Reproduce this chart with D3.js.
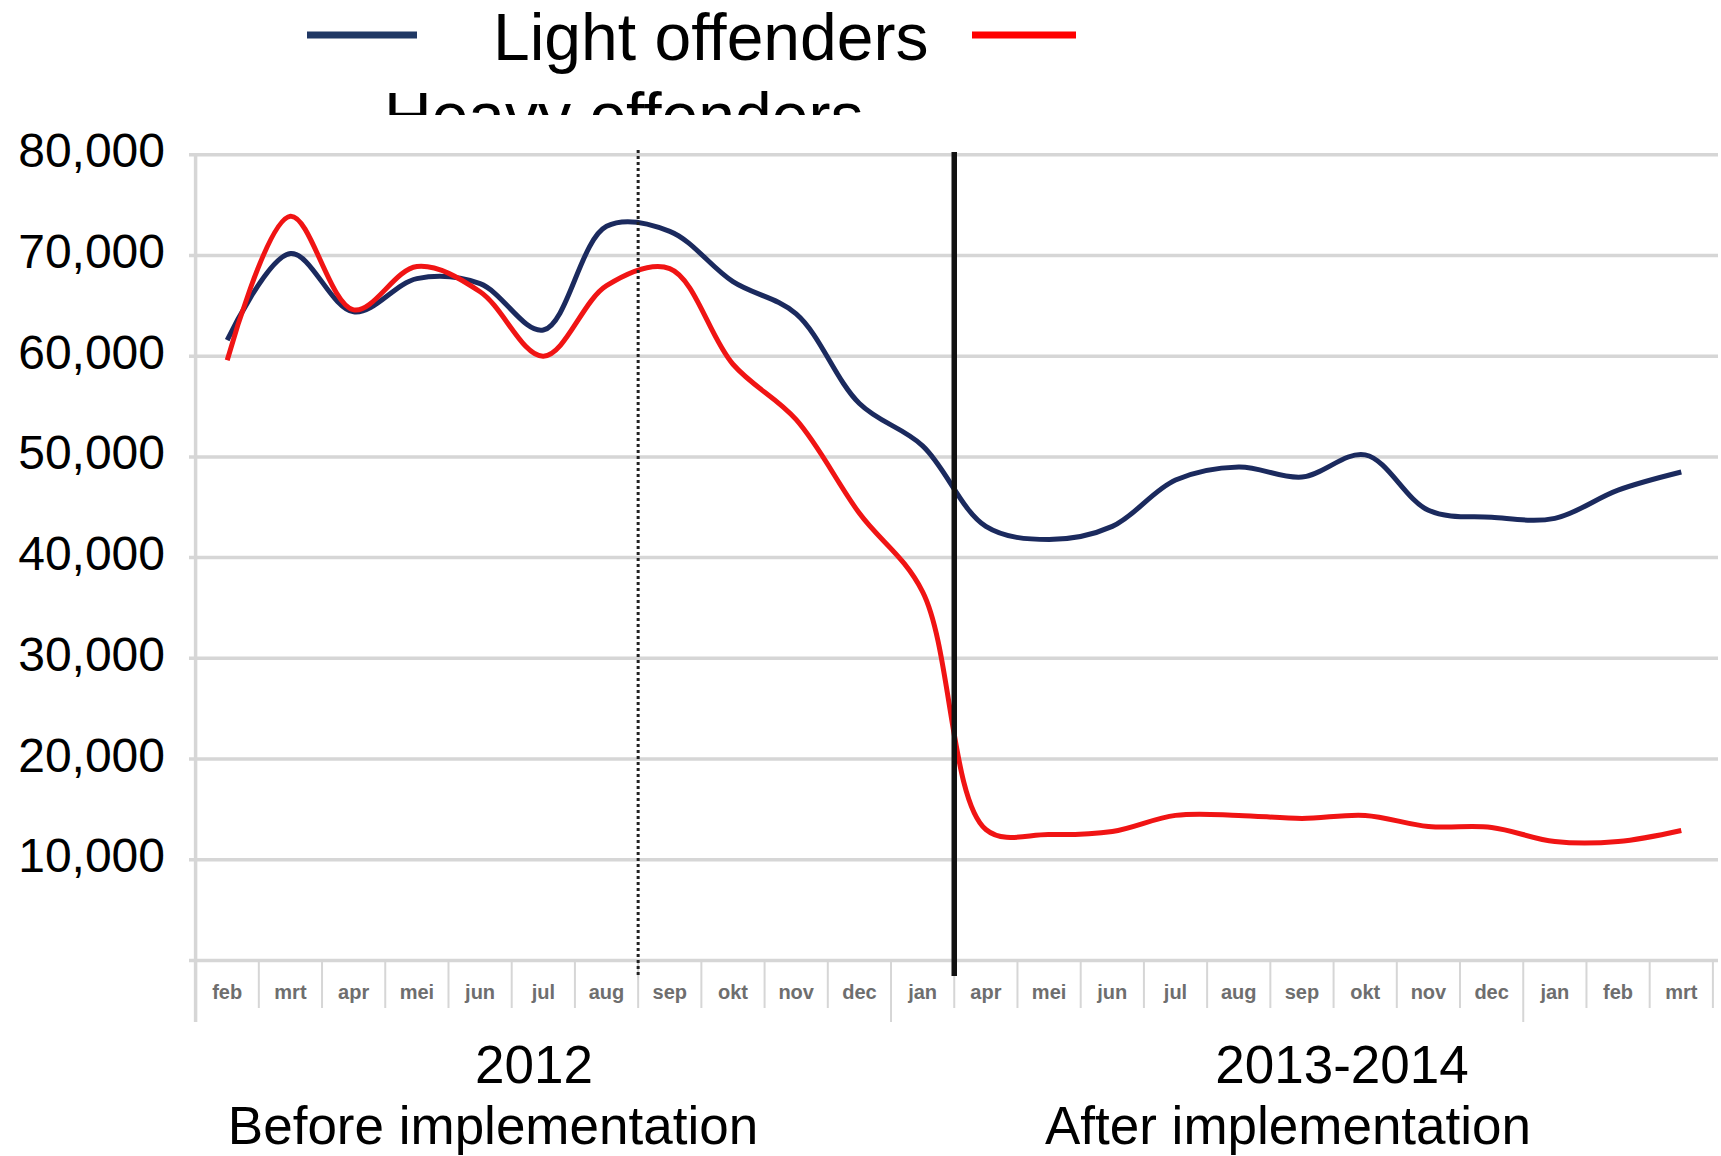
<!DOCTYPE html>
<html>
<head>
<meta charset="utf-8">
<script src="https://cdn.jsdelivr.net/npm/d3@7"></script>
<style>
  body { margin: 0; background: #fff; }
  text { font-family: "Liberation Sans", Arial, sans-serif; }
</style>
</head>
<body>
<script>
// months on the category axis (two periods)
const months = ["feb","mrt","apr","mei","jun","jul","aug","sep","okt","nov","dec","jan",
                "apr","mei","jun","jul","aug","sep","okt","nov","dec","jan","feb","mrt"];
const lightOffenders = [61600,70200,64400,67700,67200,62600,72900,72400,67400,64200,55300,51100,
                        43100,41800,43100,47700,49000,48000,50200,44700,44000,43900,46700,48500];
const heavyOffenders = [59600,73900,64600,68900,66400,60000,67000,68700,59200,53700,44400,36600,
                        13000,12500,12800,14400,14400,14100,14400,13300,13200,11800,11800,12900];
const yTicks = [10000,20000,30000,40000,50000,60000,70000,80000];
const periods = ["2012", "2013-2014"];
const periodNotes = ["Before implementation", "After implementation"];

const svg = d3.select("body").append("svg")
  .attr("width", 1721)
  .attr("height", 1156);

const x = d3.scaleBand()
  .domain(d3.range(months.length))
  .range([195.6, 1712.9]);

const y = d3.scaleLinear()
  .domain([0, 80000])
  .range([960.4, 154.8]);

const bw = x.bandwidth();

// gridlines
svg.append("g").selectAll("line")
  .data([0].concat(yTicks))
  .enter().append("line")
  .attr("x1", 189).attr("x2", 1718)
  .attr("y1", d => y(d)).attr("y2", d => y(d))
  .attr("stroke", "#d6d6d6")
  .attr("stroke-width", 3.5);

// category separators
const bounds = d3.range(months.length + 1).map(i => x.range()[0] + i * bw);
svg.append("g").selectAll("line")
  .data(bounds)
  .enter().append("line")
  .attr("x1", d => d).attr("x2", d => d)
  .attr("y1", (d, i) => i === 0 ? 154.8 : y(0))
  .attr("y2", (d, i) => (i === 0 || i === 11 || i === 21) ? 1022 : 1008)
  .attr("stroke", "#d6d6d6")
  .attr("stroke-width", (d, i) => i === 0 ? 3.5 : 2);

// category labels
svg.append("g").selectAll("text")
  .data(months)
  .enter().append("text")
  .attr("x", (d, i) => x(i) + bw / 2)
  .attr("y", 999)
  .attr("text-anchor", "middle")
  .attr("font-size", "20px")
  .attr("font-weight", "bold")
  .attr("fill", "#6e6e6e")
  .text(d => d);

// y axis labels
const yAxis = svg.append("g")
  .attr("transform", "translate(195,0)")
  .call(d3.axisLeft(y).tickValues(yTicks).tickFormat(d3.format(",")).tickSize(0).tickPadding(30));
yAxis.select(".domain").remove();
yAxis.selectAll("text")
  .attr("font-family", "Liberation Sans, Arial, sans-serif")
  .attr("font-size", "48px")
  .attr("fill", "#000")
  .attr("dy", "0.25em");

// series
const line = d3.line()
  .x((d, i) => x(i) + bw / 2)
  .y(d => y(d))
  .curve(d3.curveCatmullRom.alpha(0.5));

svg.append("path")
  .datum(lightOffenders)
  .attr("fill", "none")
  .attr("stroke", "#1b2a5e")
  .attr("stroke-width", 5)
  .attr("d", line);

svg.append("path")
  .datum(heavyOffenders)
  .attr("fill", "none")
  .attr("stroke", "#f01414")
  .attr("stroke-width", 5)
  .attr("d", line);

// dotted marker (aug|sep) and implementation line (jan|apr)
svg.append("line")
  .attr("x1", x(7)).attr("x2", x(7))
  .attr("y1", 150).attr("y2", 976)
  .attr("stroke", "#222")
  .attr("stroke-width", 3)
  .attr("stroke-dasharray", "3,3");

svg.append("line")
  .attr("x1", x(12)).attr("x2", x(12))
  .attr("y1", 152).attr("y2", 976)
  .attr("stroke", "#111")
  .attr("stroke-width", 5.5);

// period captions
svg.selectAll(".period")
  .data(periods)
  .enter().append("text")
  .attr("class", "period")
  .attr("x", (d, i) => i === 0 ? 534 : 1342)
  .attr("y", 1083)
  .attr("text-anchor", "middle")
  .attr("font-size", "53px")
  .text(d => d);

svg.selectAll(".note")
  .data(periodNotes)
  .enter().append("text")
  .attr("class", "note")
  .attr("x", (d, i) => i === 0 ? 493 : 1288)
  .attr("y", 1144)
  .attr("text-anchor", "middle")
  .attr("font-size", "53px")
  .text(d => d);

// legend
svg.append("defs").append("clipPath").attr("id", "legclip")
  .append("rect").attr("x", 0).attr("y", 0).attr("width", 1721).attr("height", 115);

const leg = svg.append("g").attr("clip-path", "url(#legclip)");
leg.append("line")
  .attr("x1", 307).attr("x2", 417).attr("y1", 35).attr("y2", 35)
  .attr("stroke", "#203864").attr("stroke-width", 7);
leg.append("text")
  .attr("x", 493).attr("y", 60)
  .attr("font-size", "66px")
  .text("Light offenders");
leg.append("line")
  .attr("x1", 972).attr("x2", 1076).attr("y1", 35).attr("y2", 35)
  .attr("stroke", "#ff0000").attr("stroke-width", 7);
leg.append("text")
  .attr("x", 384).attr("y", 139)
  .attr("font-size", "66px")
  .text("Heavy offenders");
</script>
</body>
</html>
